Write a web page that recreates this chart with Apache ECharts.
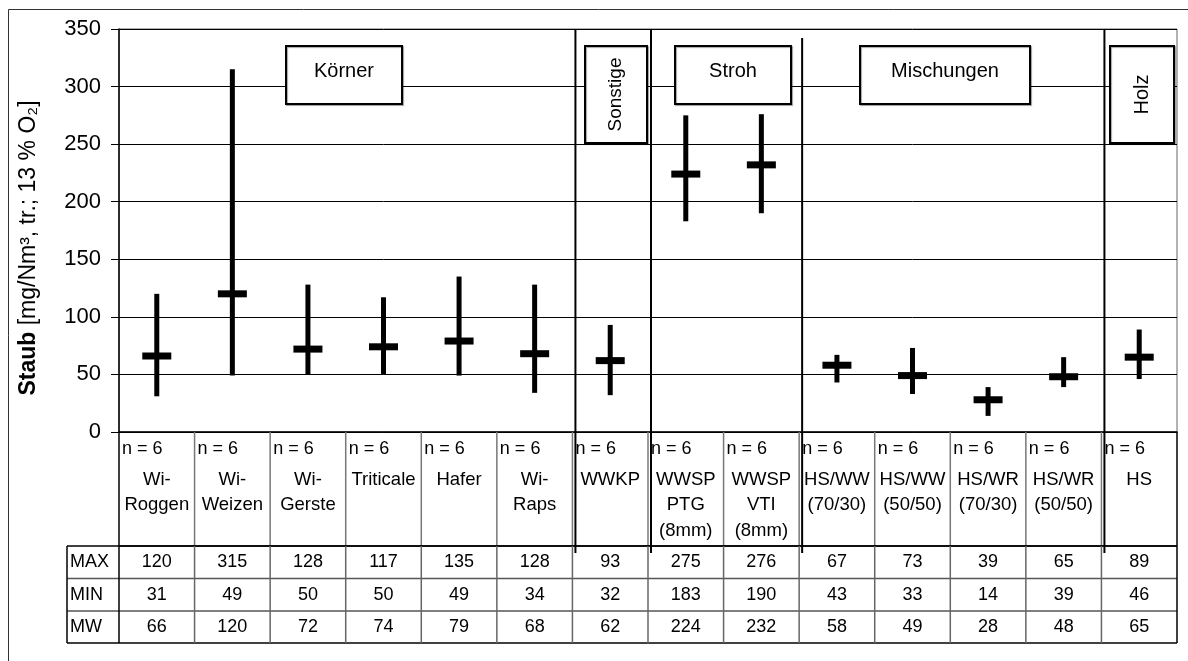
<!DOCTYPE html>
<html><head><meta charset="utf-8">
<script src="https://cdn.jsdelivr.net/npm/echarts@6/dist/echarts.min.js"></script>
<style>html,body{margin:0;padding:0;background:#fff}#c{width:1188px;height:661px}</style>
</head><body><div id="c"></div>
<script>
// ---- data ----
const categories = ['Wi-\nRoggen','Wi-\nWeizen','Wi-\nGerste','Triticale','Hafer','Wi-\nRaps','WWKP','WWSP\nPTG\n(8mm)','WWSP\nVTI\n(8mm)','HS/WW\n(70/30)','HS/WW\n(50/50)','HS/WR\n(70/30)','HS/WR\n(50/50)','HS'];
const nValues = [6,6,6,6,6,6,6,6,6,6,6,6,6,6];
const maxValues = [120,315,128,117,135,128,93,275,276,67,73,39,65,89];
const minValues = [31,49,50,50,49,34,32,183,190,43,33,14,39,46];
const meanValues = [66,120,72,74,79,68,62,224,232,58,49,28,48,65];
const rowLabels = ['MAX','MIN','MW'];
const groupLabels = ['Körner','Sonstige','Stroh','Mischungen','Holz'];
const groupSeparatorsAfter = [5,6,8,12];
const yMin = 0, yMax = 350, yStep = 50;

const FONT = 'Liberation Sans, Arial, sans-serif';
const chart = echarts.init(document.getElementById('c'), null, {renderer:'canvas'});

chart.setOption({
  backgroundColor:'#fff',
  animation:false,
  grid:{left:119, top:29, width:1058, height:403, show:true, borderColor:'#666', borderWidth:1},
  xAxis:{type:'category', data:categories, boundaryGap:true,
    axisLabel:{show:false}, axisTick:{show:false},
    axisLine:{lineStyle:{color:'#000', width:1.5}}, splitLine:{show:false}},
  yAxis:{type:'value', min:yMin, max:yMax, interval:yStep,
    axisLine:{show:true, lineStyle:{color:'#000', width:1.5}},
    axisTick:{show:true, length:8, lineStyle:{color:'#000', width:1}},
    axisLabel:{fontSize:22, color:'#000', margin:18, fontFamily:FONT},
    splitLine:{lineStyle:{color:'#000', width:1}}},
  series:[{
    type:'custom',
    data: categories.map((c,i)=>[i, minValues[i], maxValues[i], meanValues[i]]),
    encode:{x:0, y:[1,2,3]},
    renderItem:(params, api)=>{
      const x = api.coord([api.value(0), 0])[0];
      const y1 = api.coord([api.value(0), api.value(1)])[1];
      const y2 = api.coord([api.value(0), api.value(2)])[1];
      const ym = api.coord([api.value(0), api.value(3)])[1];
      return {type:'group', children:[
        {type:'line', shape:{x1:x, y1:y1, x2:x, y2:y2}, style:{stroke:'#000', lineWidth:5}},
        {type:'rect', shape:{x:x-14.5, y:ym-3.5, width:29, height:7}, style:{fill:'#000'}}
      ]};
    }
  }]
});

// ---- table & annotations ----
const gLeft = 119, gRight = 1177, gTop = 29, gBottom = 432;
const bw = (gRight-gLeft)/categories.length;
const centers = categories.map((c,i)=>chart.convertToPixel({xAxisIndex:0}, i));
const bounds = categories.map((c,i)=>centers[i]-bw/2).concat([centers[centers.length-1]+bw/2]);
const g = [];
const line = (x1,y1,x2,y2,color,w,z)=>g.push({type:'line', z:z||50, shape:{x1,y1,x2,y2}, style:{stroke:color, lineWidth:w}});
const text = (x,y,t,opt)=>g.push(Object.assign({type:'text', z:60, x, y, style:Object.assign({text:t, fill:'#000', font:'18px '+FONT, align:'center', verticalAlign:'middle'}, opt||{})}));

// outer frame
g.push({type:'rect', z:1, shape:{x:8.5, y:9.5, width:1200, height:700}, style:{fill:'none', stroke:'#333', lineWidth:1}});

// name table
const nameTop = gBottom, nameBottom = 546;
for (let i=1;i<bounds.length-1;i++) line(bounds[i], nameTop, bounds[i], nameBottom, '#777', 1.5);
line(gLeft, nameTop, gLeft, nameBottom, '#000', 1.5);
line(gRight, nameTop, gRight, nameBottom, '#000', 1.5);
line(gLeft, nameBottom, gRight, nameBottom, '#000', 1.5);
categories.forEach((c,i)=>{
  text(bounds[i]+3, 449, 'n = '+nValues[i], {align:'left', font:'18px '+FONT});
  g.push({type:'text', z:60, x:centers[i], y:467, style:{text:c, fill:'#000', font:'18.5px '+FONT, align:'center', verticalAlign:'top', lineHeight:25.5}});
});

// lower table
const rowY = [546, 578.5, 611, 643];
const tabLeft = 67;
const rows = [maxValues, minValues, meanValues];
rowY.forEach((y,k)=>line(tabLeft, y, gRight, y, (k===0||k===3)?'#000':'#555', 1.5));
line(tabLeft, rowY[0], tabLeft, rowY[3], '#000', 1.5);
line(gLeft, rowY[0], gLeft, rowY[3], '#000', 1.5);
line(gRight, rowY[0], gRight, rowY[3], '#000', 1.5);
for (let i=1;i<bounds.length-1;i++) line(bounds[i], rowY[0], bounds[i], rowY[3], '#666', 1.5);
rows.forEach((vals,r)=>{
  const cy = (rowY[r]+rowY[r+1])/2;
  text(tabLeft+3, cy, rowLabels[r], {align:'left'});
  vals.forEach((v,i)=>text(centers[i], cy, String(v)));
});

// group separators
groupSeparatorsAfter.forEach((idx,k)=>{
  const x = bounds[idx+1]+3;
  line(x, k===2?38:gTop, x, 553, '#000', 2, 55);
});

// group boxes (annotation positions)
const boxes = [
  {x:286, y:46, w:116, h:58, rot:false, fs:20},
  {x:585, y:46, w:62, h:97, rot:true, fs:19},
  {x:675, y:46, w:116, h:58, rot:false, fs:20},
  {x:860, y:46, w:170, h:58, rot:false, fs:20},
  {x:1110, y:46, w:64, h:97, rot:true, fs:20}
];
boxes.forEach((b,k)=>{
  g.push({type:'rect', z:70, shape:{x:b.x, y:b.y, width:b.w, height:b.h}, style:{fill:'#fff', stroke:'#000', lineWidth:2, shadowColor:'rgba(0,0,0,0.35)', shadowOffsetX:1, shadowOffsetY:1, shadowBlur:1}});
  if (b.rot) {
    g.push({type:'text', z:71, x:b.x+b.w/2, y:b.y+b.h/2, rotation:Math.PI/2, style:{text:groupLabels[k], fill:'#000', font:b.fs+'px '+FONT, align:'center', verticalAlign:'middle'}});
  } else {
    g.push({type:'text', z:71, x:b.x+b.w/2, y:b.y+25, style:{text:groupLabels[k], fill:'#000', font:b.fs+'px '+FONT, align:'center', verticalAlign:'middle'}});
  }
});

// y axis title
g.push({type:'text', z:60, x:29, y:248, rotation:Math.PI/2, style:{
  text:'{b|Staub} [mg/Nm³, tr.; 13 % O₂]', fill:'#000', font:'23px '+FONT, align:'center', verticalAlign:'middle',
  rich:{b:{fontWeight:'bold', fontSize:23, fontFamily:FONT, fill:'#000'}}
}});

chart.setOption({graphic:g});
</script>
</body></html>
